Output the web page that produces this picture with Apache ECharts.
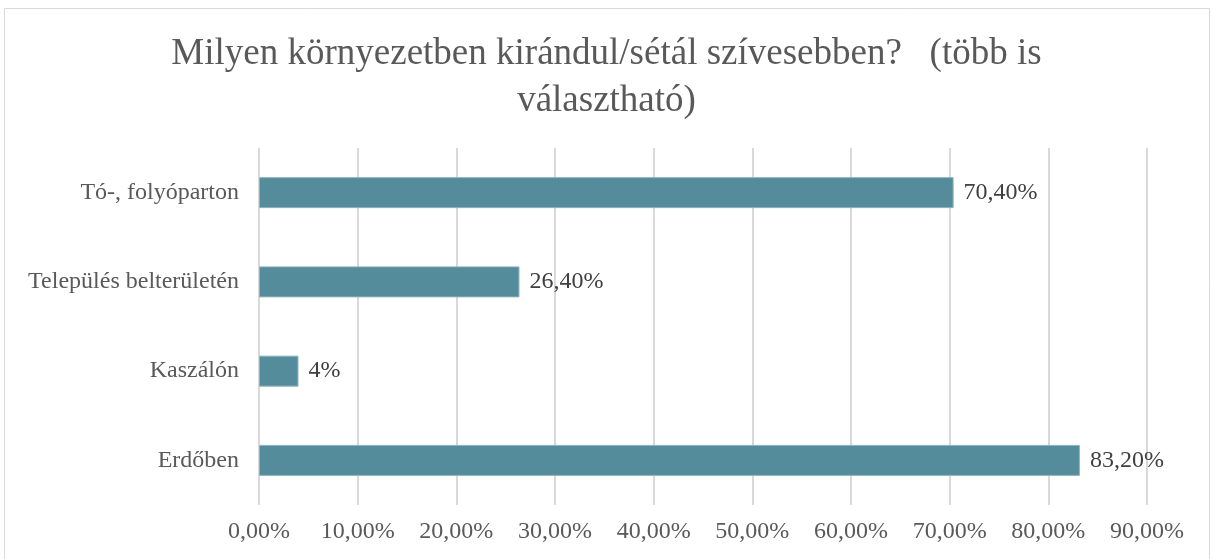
<!DOCTYPE html>
<html>
<head>
<meta charset="utf-8">
<script src="https://cdn.jsdelivr.net/npm/echarts@6/dist/echarts.min.js"></script>
<style>
  html, body { margin: 0; padding: 0; background: #fff; }
  #chart { width: 1213px; height: 559px; }
</style>
</head>
<body>
<div id="chart"></div>
<script>
// Survey answers, listed bottom to top on the category axis
const categories = ['Erdőben', 'Kaszálón', 'Település belterületén', 'Tó-, folyóparton'];
const shares = [83.2, 4, 26.4, 70.4];
const titleText = 'Milyen környezetben kirándul/sétál szívesebben?   (több is\nválasztható)';

const serif = '"Liberation Serif", "Times New Roman", serif';
const textGray = '#595959';

function pct(v) {
  return v.toFixed(2).replace('.', ',') + '%';
}
function barLabel(v) {
  return Number.isInteger(v) ? v + '%' : pct(v);
}

const chart = echarts.init(document.getElementById('chart'), null, { renderer: 'canvas' });
chart.setOption({
  backgroundColor: '#ffffff',
  animation: false,
  graphic: [{
    type: 'rect',
    shape: { x: 4.5, y: 8.5, width: 1205, height: 560 },
    style: { fill: 'none', stroke: '#d9d9d9', lineWidth: 1 },
    silent: true
  }],
  title: {
    text: titleText,
    left: 'center',
    top: 26,
    textStyle: {
      fontFamily: serif,
      fontSize: 37,
      fontWeight: 'normal',
      color: textGray,
      lineHeight: 47
    }
  },
  grid: { left: 259, right: 66, top: 148, bottom: 54, containLabel: false },
  xAxis: {
    type: 'value',
    min: 0,
    max: 90,
    interval: 10,
    axisLine: { show: false },
    axisTick: { show: false },
    splitLine: { show: true, lineStyle: { color: '#d9d9d9', width: 2 } },
    axisLabel: {
      formatter: pct,
      fontFamily: serif,
      fontSize: 24,
      color: textGray,
      margin: 15
    }
  },
  yAxis: {
    type: 'category',
    data: categories,
    axisLine: { show: false },
    axisTick: { show: false },
    axisLabel: {
      fontFamily: serif,
      fontSize: 24,
      color: textGray,
      margin: 20
    }
  },
  series: [{
    type: 'bar',
    data: shares,
    barWidth: 31,
    itemStyle: { color: '#558c9c', borderColor: '#8db3be', borderWidth: 1 },
    label: {
      show: true,
      position: 'right',
      distance: 10,
      formatter: p => barLabel(p.value),
      fontFamily: serif,
      fontSize: 24,
      color: '#404040'
    }
  }]
});
</script>
</body>
</html>
